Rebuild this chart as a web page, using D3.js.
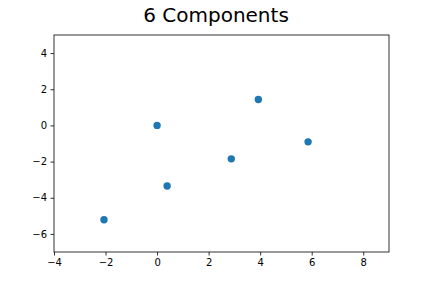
<!DOCTYPE html>
<html><head><meta charset="utf-8">
<script src="https://cdn.jsdelivr.net/npm/d3@7"></script>
<style>body{margin:0;background:#fff}svg{display:block}text{font-family:"DejaVu Sans",sans-serif}</style>
</head><body><svg id="c" width="432" height="288"></svg>
<script>
const xValues = [3.93, 0.0, 2.88, 0.39, -2.06, 5.86];
const yValues = [1.43, 0.0, -1.85, -3.35, -5.22, -0.91];
const xTicks = [-4, -2, 0, 2, 4, 6, 8];
const yTicks = [-6, -4, -2, 0, 2, 4];
const title = "6 Components";

const svg = d3.select("#c");
const L = 54, R = 389, T = 35, B = 252;
const x = d3.scaleLinear().domain([-4, 9]).range([L, R]);
const y = d3.scaleLinear().domain([-7, 5]).range([B, T]);
const fmt = d => (d < 0 ? "\u2212" + Math.abs(d) : String(d));

svg.append("text").attr("x", 216).attr("y", 22).attr("text-anchor", "middle")
  .attr("font-size", 20).attr("fill", "#000").text(title);

const gx = svg.append("g").attr("transform", `translate(0,${B})`)
  .call(d3.axisBottom(x).tickValues(xTicks).tickFormat(fmt).tickSize(3.5).tickPadding(3.5));
const gy = svg.append("g").attr("transform", `translate(${L},0)`)
  .call(d3.axisLeft(y).tickValues(yTicks).tickFormat(fmt).tickSize(3.5).tickPadding(3.5));
[gx, gy].forEach(g => {
  g.select(".domain").remove();
  g.selectAll("line").attr("stroke", "#000").attr("stroke-width", 0.8);
  g.selectAll("text").attr("font-size", 10).attr("fill", "#000").style("font-family", '"DejaVu Sans",sans-serif');
});

svg.append("rect").attr("x", L).attr("y", T).attr("width", R - L).attr("height", B - T)
  .attr("fill", "none").attr("stroke", "#000").attr("stroke-width", 0.8);

svg.append("g").selectAll("circle").data(xValues.map((v, i) => [v, yValues[i]])).join("circle")
  .attr("cx", d => x(d[0])).attr("cy", d => y(d[1])).attr("r", 3.7).attr("fill", "#1f77b4");
</script></body></html>
